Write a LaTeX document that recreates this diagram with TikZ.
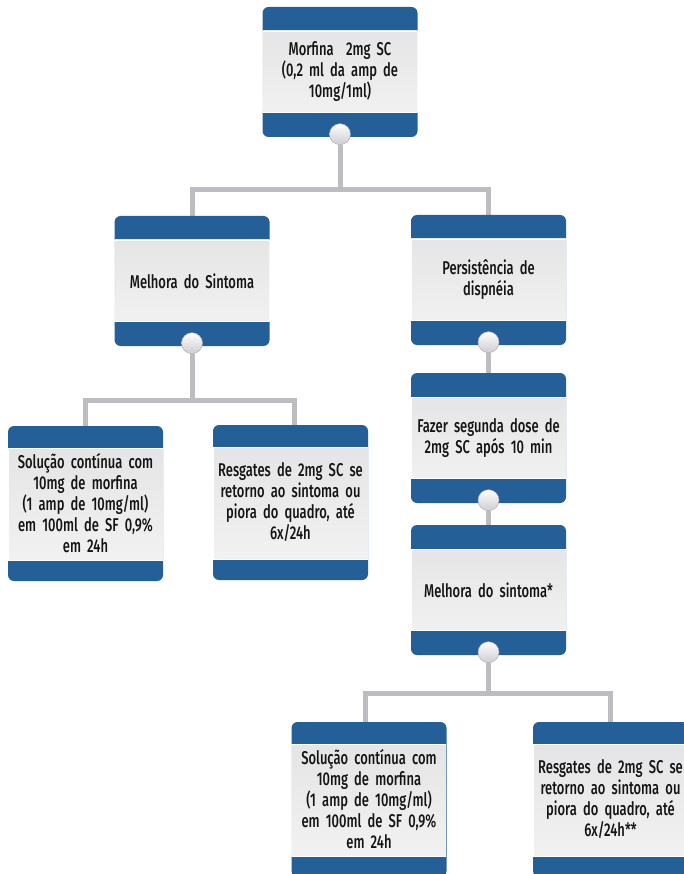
\documentclass[tikz,border=0pt]{standalone}
\usepackage{fontspec}
\setmainfont{Fira Sans}[FakeStretch=0.7, WordSpace=0.72, UprightFont={* Medium}]
\usetikzlibrary{backgrounds,calc}
\definecolor{bandblue}{RGB}{37,95,152}
\definecolor{conngray}{RGB}{188,188,193}
\definecolor{bodytop}{RGB}{226,226,228}
\definecolor{bodybot}{RGB}{244,244,244}
\definecolor{dotrim}{RGB}{175,175,180}
\definecolor{txt}{RGB}{20,20,20}
\tikzset{
  card/.style n args={3}{rectangle, rounded corners=6pt, fill=bandblue,
    minimum width=155pt, minimum height=#1, inner sep=0pt, text width=153pt,
    align=center, text=txt, font=\fontsize{18.5}{21}\selectfont,
    path picture={\shade[sharp corners,top color=bodytop,bottom color=bodybot,draw=white,line width=0.6pt]
      ([yshift=-#2]path picture bounding box.north west) rectangle
      ([yshift=#3]path picture bounding box.south east);}},
  shortcard/.style={card={130pt}{24pt}{25pt}},
  tallcard/.style={card={155pt}{22pt}{21pt}},
  dot/.style={circle, minimum size=21pt, inner sep=0pt, top color=white,
    bottom color={rgb,255:red,205;green,205;blue,210}, draw=dotrim, line width=0.5pt},
  conn/.style={draw=conngray, line width=5pt}
}
\begin{document}
\begin{tikzpicture}[x=1pt,y=-1pt]
\useasboundingbox (0,0) rectangle (684,874);
\clip (0,0) rectangle (684,874);
\node[shortcard] (A) at (340,72) {Morfina\ \ 2mg SC\\(0,2 ml da amp de\\10mg/1ml)};
\node[shortcard] (B) at (192,281) {Melhora do Sintoma};
\node[shortcard] (C) at (488.5,280) {Persistência de\\dispnéia};
\node[shortcard] (D) at (488.5,438) {Fazer segunda dose de\\2mg SC após 10 min};
\node[shortcard] (E) at (488.5,590) {Melhora do sintoma*};
\node[tallcard] (F) at (85.5,503.5) {Solução contínua com\\10mg de morfina\\(1 amp de 10mg/ml)\\em 100ml de SF 0,9\%\\em 24h};
\node[tallcard] (G) at (290.5,502.5) {Resgates de 2mg SC se\\retorno ao sintoma ou\\piora do quadro, até\\6x/24h};
\node[tallcard] (H) at (369,799.5) {Solução contínua com\\10mg de morfina\\(1 amp de 10mg/ml)\\em 100ml de SF 0,9\%\\em 24h};
\node[tallcard] (I) at (610.5,799.5) {Resgates de 2mg SC se\\retorno ao sintoma ou\\piora do quadro, até\\6x/24h**};
\foreach \n in {A,B,C,D,E}{\node[dot] (\n d) at ([yshift=3pt]\n.south) {};}
\coordinate (jA) at (340,190);
\coordinate (jB) at (192,400);
\coordinate (jE) at (488.5,693);
\begin{scope}[on background layer]
\draw[conn] (Ad) -- (jA);
\draw[conn] (jA) -| (B.north);
\draw[conn] (jA) -| (C.north);
\draw[conn] (Bd) -- (jB);
\draw[conn] (jB) -| (F.north);
\draw[conn] (jB) -| ([xshift=4pt]G.north);
\draw[conn] (Cd) -- (D.north);
\draw[conn] (Dd) -- (E.north);
\draw[conn] (Ed) -- (jE);
\draw[conn] (jE) -| ([xshift=-4pt]H.north);
\draw[conn] (jE) -| (I.north);
\end{scope}
\end{tikzpicture}
\end{document}
